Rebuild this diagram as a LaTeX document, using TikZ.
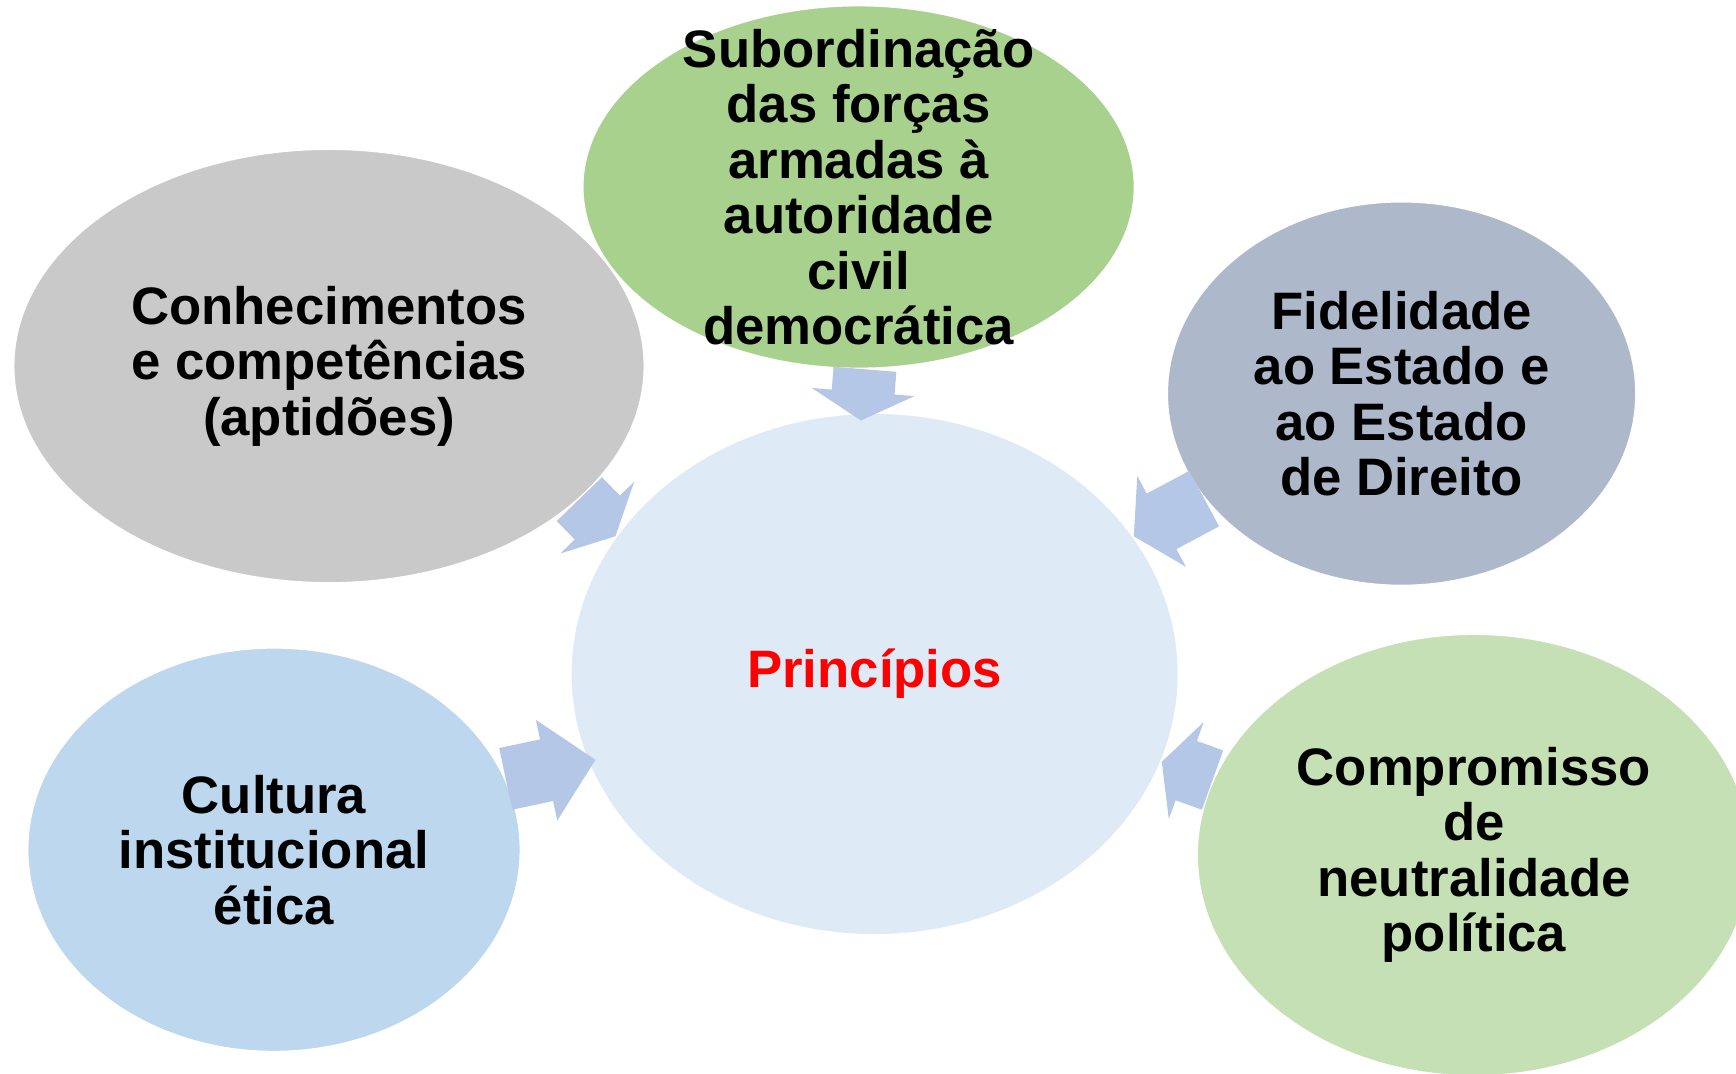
\documentclass[tikz,border=0pt]{standalone}
\usepackage{fontspec}
\setmainfont{Liberation Sans}
\usetikzlibrary{calc,shapes.geometric}
\definecolor{centrefill}{HTML}{DEEBF7}
\definecolor{greenfill}{HTML}{A9D18E}
\definecolor{greyfill}{HTML}{C9C9C9}
\definecolor{slatefill}{HTML}{ADB9CA}
\definecolor{bluefill}{HTML}{BDD7EE}
\definecolor{palegreen}{HTML}{C5E0B4}
\definecolor{arrowblue}{HTML}{B4C7E7}
\tikzset{
    every node/.style={ellipse, inner sep=0mm, draw=white, line width=1pt, align=center,
        font=\fontsize{30}{31.6}\selectfont\bfseries}
}
\tikzset{arrowfill/.style={fill=arrowblue, draw=none}}
% fat block arrow: tail, tip, head length
\newcommand{\blockarrow}[3]{%
    \coordinate (bt) at (#1);
    \coordinate (bh) at (#2);
    \coordinate (bb) at ($(bh)!#3!(bt)$);
    \fill[arrowfill] ($(bt)!0.63cm!90:(bh)$) -- ($(bb)!0.63cm!90:(bh)$) -- ($(bb)!1.03cm!90:(bh)$)
        -- (bh) -- ($(bb)!1.03cm!-90:(bh)$) -- ($(bb)!0.63cm!-90:(bh)$) -- ($(bt)!0.63cm!-90:(bh)$) -- cycle;
}
\begin{document}
\begin{tikzpicture}[x=0.02cm, y=-0.02cm]
        \useasboundingbox (0,0) rectangle (1736,1073);
        \clip (0,0) rectangle (1736,1073);
        \node (princ) [fill=centrefill, minimum width=12.16cm, minimum height=10.44cm, text=red] at (874.6, 674) {Princípios};
        \node (sub) [fill=greenfill, minimum width=11.04cm, minimum height=7.26cm, inner ysep=-1.2cm] at (858.6, 187) {Subordinação\\das forças\\armadas à\\autoridade\\civil\\democrática};
        \node (conh) [fill=greyfill, minimum width=12.62cm, minimum height=8.68cm] at (329, 366) {Conhecimentos\\e competências\\(aptidões)};
        \node (fid) [fill=slatefill, minimum width=9.38cm, minimum height=7.68cm] at (1401.6, 393.6) {Fidelidade\\ao Estado e\\ao Estado\\de Direito};
        \node (cult) [fill=bluefill, minimum width=9.86cm, minimum height=8.08cm] at (274, 849.7) {Cultura\\institucional\\ética};
        \node (comp) [fill=palegreen, minimum width=11.08cm, minimum height=8.84cm] at (1474, 855) {Compromisso\\de\\neutralidade\\política};
        \blockarrow{sub.-88}{$(princ.93)+(0,8)$}{0.57cm}
        \blockarrow{conh.-28}{princ.152}{0.52cm}
        \blockarrow{fid.-152}{princ.28}{0.63cm}
        \blockarrow{cult.17}{$(princ.-163)+(8,-2)$}{1.0cm}
        \blockarrow{comp.164}{princ.-17}{0.52cm}
\end{tikzpicture}
\end{document}
